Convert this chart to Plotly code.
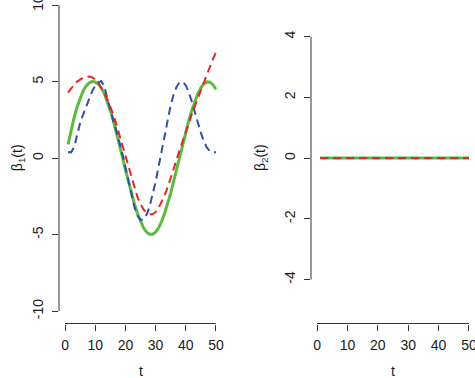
import plotly.graph_objects as go

# ---- data ----
t = [1, 2, 3, 4, 5, 6, 7, 8, 9, 10, 11, 12, 13, 14, 15, 16, 17, 18, 19, 20,
     21, 22, 23, 24, 25, 26, 27, 28, 29, 30, 31, 32, 33, 34, 35, 36, 37, 38, 39, 40,
     41, 42, 43, 44, 45, 46, 47, 48, 49, 50]

beta1_true = [0.9, 1.8, 2.65, 3.35, 3.95, 4.4, 4.72, 4.92, 5.0, 4.98,
              4.85, 4.6, 4.22, 3.72, 3.12, 2.45, 1.7, 0.9, 0.08, -0.75,
              -1.55, -2.3, -3.0, -3.62, -4.14, -4.55, -4.83, -4.97, -4.97, -4.83,
              -4.55, -4.14, -3.6, -2.98, -2.28, -1.5, -0.7, 0.12, 0.93, 1.72,
              2.45, 3.12, 3.72, 4.22, 4.6, 4.86, 4.98, 4.96, 4.8, 4.5]

beta1_blue = [0.4, 0.38, 0.7, 1.5, 2.3, 2.85, 3.4, 3.92, 4.38, 4.72,
              4.93, 5.03, 4.7, 3.9, 3.1, 2.42, 1.8, 1.1, 0.3, -0.6,
              -1.5, -2.4, -3.2, -3.75, -4.04, -4.0, -3.7, -3.17, -2.44, -1.55,
              -0.54, 0.52, 1.58, 2.58, 3.46, 4.17, 4.68, 4.95, 4.98, 4.75,
              4.3, 3.7, 3.0, 2.3, 1.65, 1.1, 0.68, 0.45, 0.38, 0.38]

beta1_red = [4.28, 4.55, 4.8, 5.0, 5.15, 5.26, 5.32, 5.33, 5.28, 5.15,
             4.92, 4.6, 4.25, 3.85, 3.4, 2.85, 2.2, 1.5, 0.8, 0.1,
             -0.6, -1.3, -1.95, -2.55, -3.0, -3.35, -3.57, -3.67, -3.66, -3.52,
             -3.25, -2.88, -2.42, -1.9, -1.33, -0.72, -0.08, 0.55, 1.17, 1.77,
             2.33, 2.87, 3.4, 3.93, 4.45, 4.97, 5.48, 5.98, 6.47, 6.9]

beta2_true = [0, 0, 0, 0, 0, 0, 0, 0, 0, 0, 0, 0, 0, 0, 0, 0, 0, 0, 0, 0, 0, 0, 0, 0, 0,
              0, 0, 0, 0, 0, 0, 0, 0, 0, 0, 0, 0, 0, 0, 0, 0, 0, 0, 0, 0, 0, 0, 0, 0, 0]
beta2_blue = [0, 0, 0, 0, 0, 0, 0, 0, 0, 0, 0, 0, 0, 0, 0, 0, 0, 0, 0, 0, 0, 0, 0, 0, 0,
              0, 0, 0, 0, 0, 0, 0, 0, 0, 0, 0, 0, 0, 0, 0, 0, 0, 0, 0, 0, 0, 0, 0, 0, 0]
beta2_red = [0, 0, 0, 0, 0, 0, 0, 0, 0, 0, 0, 0, 0, 0, 0, 0, 0, 0, 0, 0, 0, 0, 0, 0, 0,
             0, 0, 0, 0, 0, 0, 0, 0, 0, 0, 0, 0, 0, 0, 0, 0, 0, 0, 0, 0, 0, 0, 0, 0, 0]

x_ticks = [0, 10, 20, 30, 40, 50]
y1_ticks = [-10, -5, 0, 5, 10]
y2_ticks = [-4, -2, 0, 2, 4]

# ---- style ----
GREEN = "#5cbb3c"
BLUE = "#2f4fa8"
RED = "#e8232b"
AXC = "#333333"
TXT = "#1a1a1a"
FONT = "Liberation Sans, Arial, Helvetica, sans-serif"
FS = 14
W, H = 475, 378

fig = go.Figure()
for xa, ya, g, b, r in [("x", "y", beta1_true, beta1_blue, beta1_red),
                        ("x2", "y2", beta2_true, beta2_blue, beta2_red)]:
    fig.add_trace(go.Scatter(x=t, y=g, mode="lines", xaxis=xa, yaxis=ya,
                             line=dict(color=GREEN, width=3)))
    fig.add_trace(go.Scatter(x=t, y=b, mode="lines", xaxis=xa, yaxis=ya,
                             line=dict(color=BLUE, width=2, dash="8px,5px")))
    fig.add_trace(go.Scatter(x=t, y=r, mode="lines", xaxis=xa, yaxis=ya,
                             line=dict(color=RED, width=2, dash="8px,5px")))

common = dict(showgrid=False, zeroline=False, showline=False, ticks="outside",
              ticklen=6, tickwidth=1, tickcolor=AXC, automargin=False,
              ticklabeloverflow="allow",
              tickfont=dict(family=FONT, size=FS, color=TXT))


def labels(vals):
    return [str(v) for v in vals]


bottom = (H - 323.5) / H
fig.update_layout(
    width=W, height=H, margin=dict(l=0, r=0, t=0, b=0),
    paper_bgcolor="white", plot_bgcolor="white", showlegend=False,
    xaxis=dict(domain=[59 / W, 222 / W], range=[-2, 52], tickvals=x_ticks,
               ticktext=labels(x_ticks), anchor="y", ticklabelstandoff=3, **common),
    yaxis=dict(domain=[bottom, 1], range=[-10.8, 10.33], tickvals=y1_ticks,
               ticktext=labels(y1_ticks), tickangle=-90, anchor="x",
               ticklabelstandoff=3, **common),
    xaxis2=dict(domain=[311 / W, 1], range=[-2, 52], tickvals=x_ticks,
                ticktext=labels(x_ticks), anchor="y2", ticklabelstandoff=3, **common),
    yaxis2=dict(domain=[bottom, 1], range=[-5.45, 5.21], tickvals=y2_ticks,
                ticktext=labels(y2_ticks), tickangle=-90, anchor="x2",
                ticklabelstandoff=3, **common),
)

# axis lines spanning first..last tick (R style)
shapes = []
for xr, yr, yt in [("x", "y", y1_ticks), ("x2", "y2", y2_ticks)]:
    shapes.append(dict(type="line", xref=xr, yref=yr + " domain", x0=x_ticks[0], x1=x_ticks[-1],
                       y0=0, y1=0, line=dict(color=AXC, width=1)))
    shapes.append(dict(type="line", xref=xr + " domain", yref=yr, x0=0, x1=0,
                       y0=yt[0], y1=yt[-1], line=dict(color=AXC, width=1)))
fig.update_layout(shapes=shapes)

annots = [
    dict(text="β<sub>1</sub>(t)", xref="paper", yref="y", x=18 / W, y=0, textangle=-90,
         yanchor="middle"),
    dict(text="β<sub>2</sub>(t)", xref="paper", yref="y2", x=261 / W, y=0, textangle=-90,
         yanchor="middle"),
    dict(text="t", xref="x", yref="paper", x=25, y=0, yanchor="bottom", yshift=-3),
    dict(text="t", xref="x2", yref="paper", x=25, y=0, yanchor="bottom", yshift=-3),
]
for a in annots:
    a.update(showarrow=False, xanchor="center",
             font=dict(family=FONT, size=FS, color=TXT))
fig.update_layout(annotations=annots)

fig.write_html("out.html", config={"displayModeBar": False},
               post_script="document.body.style.margin='0';")
